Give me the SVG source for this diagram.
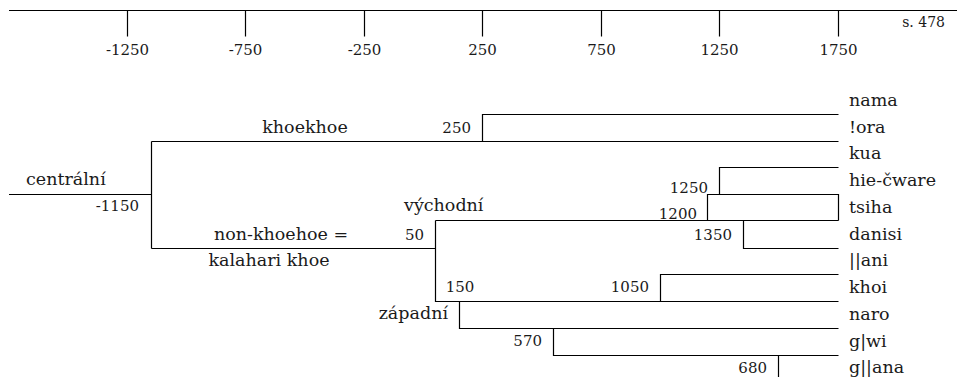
<svg xmlns="http://www.w3.org/2000/svg" width="957" height="377" viewBox="0 0 957 377">
<style>
.ln{fill:none;stroke:#000;stroke-width:1.2}
text{font-family:"DejaVu Serif","Liberation Serif",serif;fill:#1a1a1a}
.w{font-size:17.5px}
.n{font-size:15px}
.ax{font-size:15px;text-anchor:middle}
.e{text-anchor:end}
.m{text-anchor:middle}
</style>
<rect width="957" height="377" fill="#fff"/>
<g id="connectors">
<path class="ln" d="M9,10.5H957M127.5,10.5V36.5M245.5,10.5V36.5M364.5,10.5V36.5M482.5,10.5V36.5M601.5,10.5V36.5M719.5,10.5V36.5M838.5,10.5V36.5"/>
<path class="ln" d="M9,194.5H151.5"/>
<path class="ln" d="M151.5,141.5V248.5"/>
<path class="ln" d="M151.5,141.5H838.5"/>
<path class="ln" d="M482.5,141.5V114.5H838.5"/>
<path class="ln" d="M719.5,194.5V167.5H838.5"/>
<path class="ln" d="M707.5,220.5V194.5H838.5V220.5"/>
<path class="ln" d="M435.5,220.5H838.5"/>
<path class="ln" d="M151.5,248.5H435.5"/>
<path class="ln" d="M435.5,220.5V301.5H838.5"/>
<path class="ln" d="M743.5,220.5V248.5H838.5"/>
<path class="ln" d="M660.5,301.5V274.5H838.5"/>
<path class="ln" d="M459.5,301.5V328.5H838.5"/>
<path class="ln" d="M553.5,328.5V355.5H838.5"/>
<path class="ln" d="M778.5,355.5V377"/>
</g>
<g id="axis">
<text class="ax" x="127.5" y="55">-1250</text>
<text class="ax" x="245.5" y="55">-750</text>
<text class="ax" x="364.5" y="55">-250</text>
<text class="ax" x="482.5" y="55">250</text>
<text class="ax" x="601.5" y="55">750</text>
<text class="ax" x="719.5" y="55">1250</text>
<text class="ax" x="838.5" y="55">1750</text>
<text class="n e" x="945" y="27" style="font-size:14px">s. 478</text>
</g>
<g id="centralni"><text class="w" x="26" y="185">centrální</text><text class="n e" x="139" y="211">-1150</text></g>
<g id="khoekhoe"><text class="w m" x="305" y="133">khoekhoe</text><text class="n e" x="471" y="133">250</text></g>
<g id="vychodni"><text class="w" x="404" y="211">východní</text><text class="n e" x="697" y="219">1200</text></g>
<g id="hie-split"><text class="n e" x="708" y="193">1250</text></g>
<g id="danisi-split"><text class="n e" x="732" y="240">1350</text></g>
<g id="non-khoekhoe"><text class="w m" x="281" y="240">non-khoehoe =</text><text class="w m" x="269" y="266">kalahari khoe</text><text class="n e" x="424" y="240">50</text></g>
<g id="split150"><text class="n m" x="460" y="292">150</text></g>
<g id="khoi-split"><text class="n e" x="649" y="292">1050</text></g>
<g id="zapadni"><text class="w e" x="448" y="319">západní</text></g>
<g id="gwi-split"><text class="n e" x="542" y="346">570</text></g>
<g id="ggana-split"><text class="n e" x="767" y="373">680</text></g>
<g id="leaves">
<text class="w" x="849" y="106">nama</text>
<text class="w" x="849" y="133">!ora</text>
<text class="w" x="849" y="159">kua</text>
<text class="w" x="849" y="186">hie-čware</text>
<text class="w" x="849" y="213">tsiha</text>
<text class="w" x="849" y="240">danisi</text>
<text class="w" x="849" y="266">||ani</text>
<text class="w" x="849" y="293">khoi</text>
<text class="w" x="849" y="320">naro</text>
<text class="w" x="849" y="347">g|wi</text>
<text class="w" x="849" y="373">g||ana</text>
</g>
</svg>
